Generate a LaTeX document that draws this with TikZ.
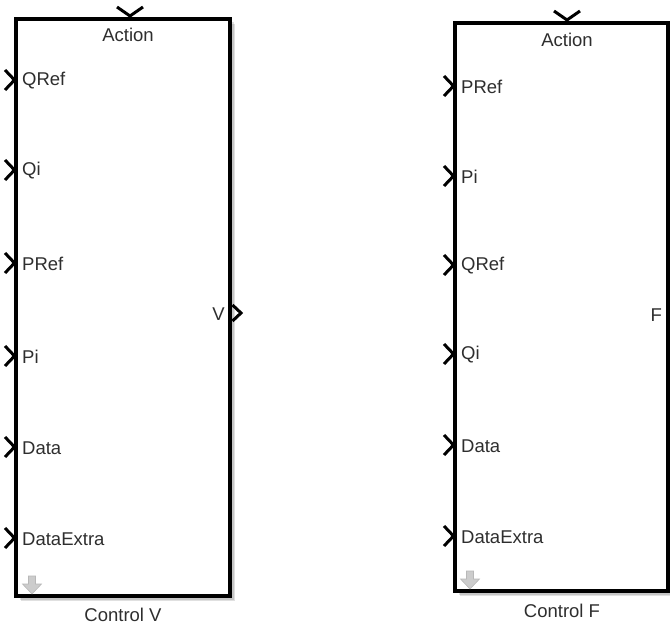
\documentclass[tikz,border=0pt]{standalone}
\usepackage{fontspec}
\setmainfont{Liberation Sans}
\begin{document}
\begin{tikzpicture}[x=1pt,y=-1pt,
  blk/.style={draw=black, line width=3.2pt, fill=white, inner sep=0pt, outer sep=0pt},
  shad/.style={fill=black, opacity=0.12},
  chev/.style={line width=3pt, line cap=butt, line join=miter},
  lbl/.style={font=\fontsize{18.5}{21}\selectfont, text=black!82, inner sep=0pt},
  darrow/.style={fill=black!20, draw=black!28, line width=0.6pt}]
\useasboundingbox (0,0) rectangle (670,626);
% shadows
\foreach \o in {2,3.5,5}{
  \fill[shad] (16+\o,19+\o) rectangle (230+\o,596+\o);
  \fill[shad] (455+\o,23+\o) rectangle (668+\o,591+\o);
}
% blocks
\node[blk, minimum width=214, minimum height=577, anchor=north west] (blkV) at (16,19) {};
\node[blk, minimum width=213, minimum height=568, anchor=north west] (blkF) at (455,23) {};
% top action ports
\draw[chev] (117,7) -- (130,16) -- (143,7);
\draw[chev] (554,11) -- (567,20) -- (580,11);
\node[lbl] (actV) at (128,35) {Action};
\node[lbl] (actF) at (567,40) {Action};
% left block inputs
\foreach \y/\t/\n in {80/QRef/a,170/Qi/b,263/PRef/c,356/Pi/d,447/Data/e,538/DataExtra/f}{
  \draw[chev] (5,\y-10) -- (14.5,\y) -- (5,\y+10);
  \node[lbl, anchor=west] (inV\n) at (22,\y+1) {\t};
}
% right block inputs
\foreach \y/\t/\n in {86/PRef/a,176/Pi/b,265/QRef/c,354/Qi/d,445/Data/e,536/DataExtra/f}{
  \draw[chev] (444,\y-10) -- (453.5,\y) -- (444,\y+10);
  \node[lbl, anchor=west] (inF\n) at (461,\y+1) {\t};
}
% outputs
\draw[chev] (232.5,305) -- (241,313) -- (232.5,321);
\node[lbl, anchor=east] (outV) at (225,314) {V};
\node[lbl, anchor=east] (outF) at (662,315) {F};
% grey down arrows
\draw[darrow] (28.5,576) -- (35.5,576) -- (35.5,584) -- (41.5,584) -- (32,594) -- (22.5,584) -- (28.5,584) -- cycle;
\draw[darrow] (466.5,571) -- (473.5,571) -- (473.5,579) -- (479.5,579) -- (470,589) -- (460.5,579) -- (466.5,579) -- cycle;
% names
\node[lbl] (nameV) at (123,615) {Control V};
\node[lbl] (nameF) at (562,611) {Control F};
\end{tikzpicture}
\end{document}
